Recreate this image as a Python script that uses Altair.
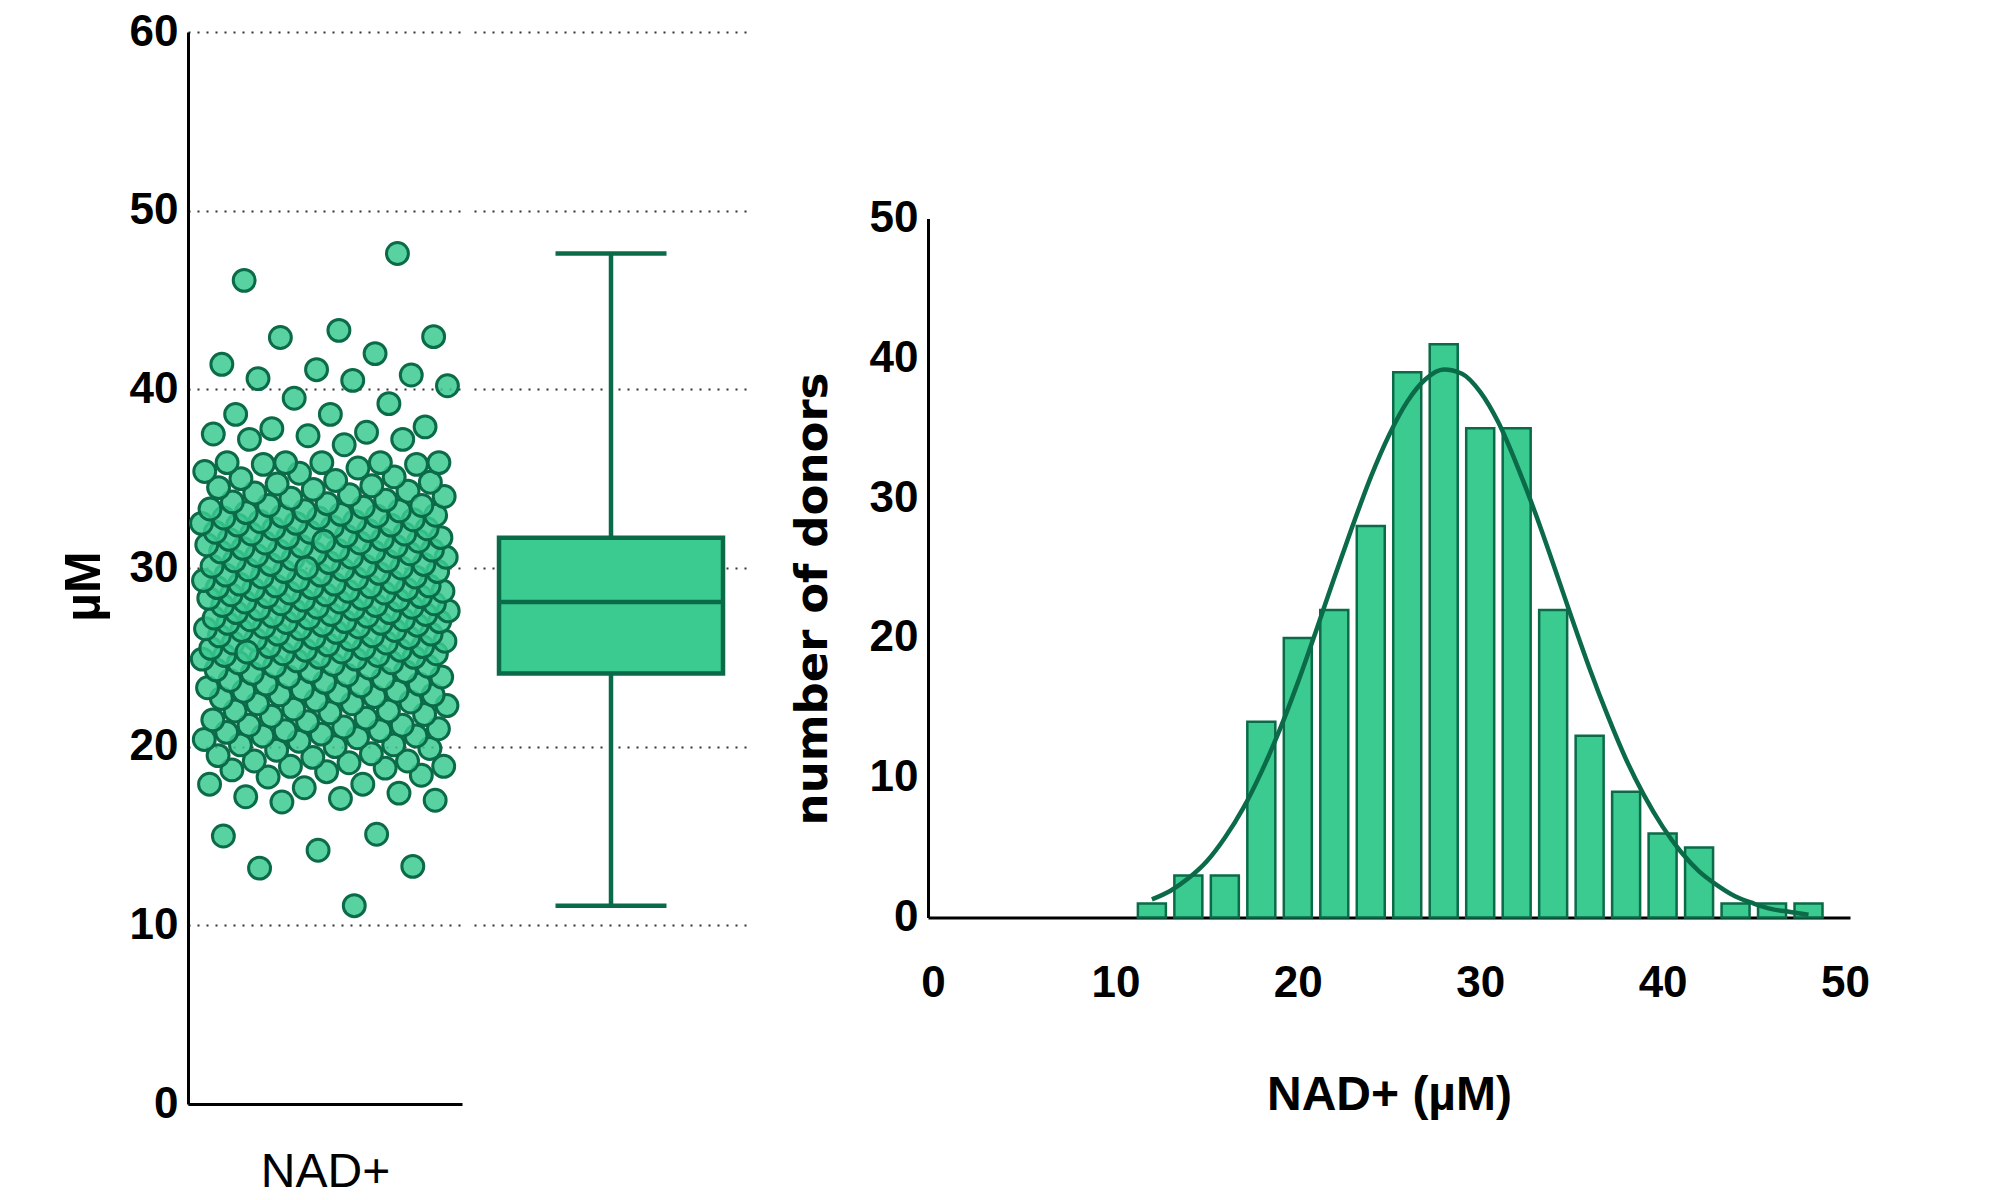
import altair as alt
import pandas as pd

# ---------------- data ----------------
nad_values = [
    11.1,
    13.2, 13.3, 14.2,
    15.0, 15.1, 16.9,
    17.0, 17.1, 17.2, 17.4, 17.7, 17.9, 17.9, 18.3, 18.4, 18.6, 18.7, 18.8, 18.9, 18.9,
    19.1, 19.2, 19.2, 19.4, 19.5, 19.6, 19.8, 19.9, 20.0, 20.1, 20.1, 20.3, 20.4, 20.5,
    20.6, 20.6, 20.7, 20.8, 20.9, 20.9,
    21.0, 21.1, 21.2, 21.2, 21.4, 21.5, 21.6, 21.7, 21.8, 21.9, 22.0, 22.0, 22.1, 22.3,
    22.4, 22.4, 22.5, 22.6, 22.7, 22.8, 22.9, 22.9,
    23.0, 23.1, 23.1, 23.2, 23.3, 23.4, 23.5, 23.5, 23.6, 23.7, 23.8, 23.9, 23.9, 24.0,
    24.1, 24.2, 24.2, 24.3, 24.4, 24.5, 24.5, 24.6, 24.7, 24.7, 24.8, 24.9, 24.9, 24.95,
    25.0, 25.0, 25.1, 25.1, 25.2, 25.2, 25.3, 25.4, 25.4, 25.5, 25.5, 25.6, 25.6, 25.7,
    25.8, 25.8, 25.9, 25.9, 26.0, 26.0, 26.1, 26.1, 26.2, 26.2, 26.3, 26.3, 26.4, 26.5,
    26.5, 26.6, 26.6, 26.7, 26.7, 26.8, 26.8, 26.9, 26.9, 26.95, 25.3,
    27.0, 27.0, 27.1, 27.1, 27.2, 27.2, 27.3, 27.3, 27.4, 27.4, 27.5, 27.5, 27.6, 27.6,
    27.7, 27.7, 27.8, 27.8, 27.9, 27.9, 28.0, 28.0, 28.1, 28.1, 28.2, 28.2, 28.3, 28.3,
    28.4, 28.4, 28.5, 28.5, 28.6, 28.6, 28.7, 28.7, 28.8, 28.8, 28.9, 28.9, 28.95,
    29.0, 29.0, 29.1, 29.1, 29.2, 29.3, 29.3, 29.4, 29.5, 29.5, 29.6, 29.6, 29.7, 29.8,
    29.8, 29.9, 29.9, 30.0, 30.1, 30.1, 30.2, 30.2, 30.3, 30.4, 30.4, 30.5, 30.6, 30.6,
    30.7, 30.8, 30.8, 30.9, 30.9, 30.95, 30.0,
    31.0, 31.0, 31.1, 31.2, 31.2, 31.3, 31.4, 31.4, 31.5, 31.6, 31.6, 31.7, 31.7, 31.8,
    31.9, 31.9, 32.0, 32.0, 32.1, 32.2, 32.2, 32.3, 32.4, 32.4, 32.5, 32.6, 32.6, 32.7,
    32.8, 32.8, 32.9, 32.9, 32.95, 31.5, 32.5,
    33.0, 33.1, 33.2, 33.2, 33.3, 33.4, 33.5, 33.6, 33.7, 33.8, 33.9, 34.0, 34.1, 34.2,
    34.3, 34.4, 34.5, 34.6, 34.7, 34.8, 34.9, 33.5,
    35.0, 35.1, 35.3, 35.4, 35.6, 35.8, 35.8, 35.9, 35.9, 35.9, 35.9, 35.9, 36.9,
    37.2, 37.2, 37.4, 37.5, 37.6, 37.8, 37.9, 38.6, 38.6,
    39.2, 39.5, 40.2, 40.5, 40.6, 40.8,
    41.1, 41.4, 42.0, 42.9, 42.95,
    43.3,
    46.1,
    47.6,
]

box_min, box_q1, box_median, box_q3, box_max = 11.1, 24.1, 28.1, 31.7, 47.6

bin_centers = [12, 14, 16, 18, 20, 22, 24, 26, 28, 30, 32, 34, 36, 38, 40, 42, 44, 46, 48]
bin_counts = [1, 3, 3, 14, 20, 22, 28, 39, 41, 35, 35, 22, 13, 9, 6, 5, 1, 1, 1]

curve_x = [12, 13, 14, 15, 16, 17, 18, 19, 20, 21, 22, 23, 24, 25, 26, 27, 28, 29, 30,
           31, 32, 33, 34, 35, 36, 37, 38, 39, 40, 41, 42, 43, 44, 45, 46, 47, 48]
curve_y = [1.3, 1.9, 2.8, 4.0, 5.7, 7.8, 10.4, 13.4, 16.8, 20.5, 24.3, 28.0, 31.5, 34.5,
           36.9, 38.5, 39.2, 38.9, 37.6, 35.4, 32.4, 29.0, 25.3, 21.5, 17.8, 14.4, 11.3,
           8.7, 6.5, 4.7, 3.3, 2.3, 1.5, 1.0, 0.6, 0.4, 0.2]

y_ticks_left = [0, 10, 20, 30, 40, 50, 60]
grid_values = [10, 20, 30, 40, 50, 60]
hist_ticks = [0, 10, 20, 30, 40, 50]

# ---------------- styling ----------------
FILL = "#3BCA90"
DARK = "#0B6B48"
FONT = "Liberation Sans"
GRID = dict(gridDash=[2, 7], gridColor="#333333", gridWidth=2)

pts = pd.DataFrame({"value": nad_values})
box_df = pd.DataFrame({"group": ["NAD+"], "min": [box_min], "q1": [box_q1],
                       "median": [box_median], "q3": [box_q3], "max": [box_max]})
hist_df = pd.DataFrame({"center": bin_centers, "count": bin_counts})
curve_df = pd.DataFrame({"x": curve_x, "y": curve_y})

# ---------------- left: scatter ----------------
left_y_axis = alt.Axis(
    values=y_ticks_left, title="µM", titleFont=FONT, titleFontSize=50, titleFontWeight="bold",
    titleColor="black", titlePadding=20, titleY=554,
    labelFont=FONT, labelFontSize=44, labelFontWeight="bold", labelColor="black",
    labelPadding=10, ticks=False, domainColor="black", domainWidth=3, grid=True, **GRID)

scatter = (
    alt.Chart(pts)
    .transform_window(rank="row_number()", sort=[alt.SortField("value", order="ascending")])
    .transform_calculate(jit="(((datum.rank * 0.6180339887) % 1) * 2 - 1) * 0.905")
    .mark_circle(size=480, fill=FILL, stroke=DARK, strokeWidth=3, fillOpacity=0.85,
                 strokeOpacity=1, opacity=1)
    .encode(
        x=alt.X("jit:Q", scale=alt.Scale(domain=[-1, 1], nice=False),
                axis=alt.Axis(title="NAD+", labels=False, ticks=False, grid=False,
                              domainColor="black", domainWidth=3, titleFont=FONT,
                              titleFontSize=48, titleFontWeight="normal", titleColor="black",
                              titlePadding=44)),
        y=alt.Y("value:Q", scale=alt.Scale(domain=[0, 60], nice=False), axis=left_y_axis),
    )
    .properties(width=274, height=1072)
)

# ---------------- middle: box plot ----------------
box_y_axis = alt.Axis(values=grid_values, grid=True, labels=False, ticks=False, domain=False,
                      title=None, minExtent=0, **GRID)
ysc = alt.Scale(domain=[0, 60], nice=False)
bx = alt.X("group:N", axis=None)
base = alt.Chart(box_df)
SW = 4.5
whisk_lo = base.mark_rule(color=DARK, strokeWidth=SW).encode(
    x=bx, y=alt.Y("min:Q", scale=ysc, axis=box_y_axis), y2="q1:Q")
whisk_hi = base.mark_rule(color=DARK, strokeWidth=SW).encode(
    x=bx, y=alt.Y("q3:Q", scale=ysc, axis=box_y_axis), y2="max:Q")
box_rect = base.mark_bar(size=224, fill=FILL, stroke=DARK, strokeWidth=SW, opacity=1).encode(
    x=bx, y=alt.Y("q1:Q", scale=ysc, axis=box_y_axis), y2="q3:Q")
median_t = base.mark_tick(size=224, thickness=SW, color=DARK, opacity=1).encode(
    x=bx, y=alt.Y("median:Q", scale=ysc, axis=box_y_axis))
cap_lo = base.mark_tick(size=111, thickness=SW, color=DARK, opacity=1).encode(
    x=bx, y=alt.Y("min:Q", scale=ysc, axis=box_y_axis))
cap_hi = base.mark_tick(size=111, thickness=SW, color=DARK, opacity=1).encode(
    x=bx, y=alt.Y("max:Q", scale=ysc, axis=box_y_axis))
box = alt.layer(whisk_lo, whisk_hi, box_rect, median_t, cap_lo, cap_hi).properties(
    width=274, height=1072)

# ---------------- spacer ----------------
spacer = alt.Chart(pd.DataFrame({"s": [0]})).mark_point(opacity=0).properties(width=156, height=20)

# ---------------- right: histogram ----------------
hx_scale = alt.Scale(domain=[0, 50], nice=False)
hy_scale = alt.Scale(domain=[0, 50], nice=False)
hist_x_axis = alt.Axis(values=hist_ticks, title="NAD+ (µM)", titleFont=FONT, titleFontSize=48,
                       titleFontWeight="bold", titleColor="black", titlePadding=66,
                       labelFont=FONT, labelFontSize=44, labelFontWeight="bold",
                       labelColor="black", labelPadding=44, ticks=False, grid=False,
                       domainColor="black", domainWidth=3)
hist_y_axis = alt.Axis(values=hist_ticks, title="number of donors", titleFont="DejaVu Sans",
                       titleFontSize=45, titleFontWeight="bold", titleColor="black",
                       titlePadding=34, titleY=380,
                       labelFont=FONT, labelFontSize=44, labelFontWeight="bold",
                       labelColor="black", labelPadding=10, ticks=False, grid=False,
                       domainColor="black", domainWidth=3)
bars = alt.Chart(hist_df).mark_bar(size=28, fill=FILL, stroke=DARK, strokeWidth=2.5,
                                   opacity=1).encode(
    x=alt.X("center:Q", scale=hx_scale, axis=hist_x_axis),
    y=alt.Y("count:Q", scale=hy_scale, axis=hist_y_axis),
)
curve = alt.Chart(curve_df).mark_line(color=DARK, strokeWidth=4.5, interpolate="monotone").encode(
    x=alt.X("x:Q", scale=hx_scale, axis=hist_x_axis),
    y=alt.Y("y:Q", scale=hy_scale, axis=hist_y_axis),
)
hist = alt.layer(bars, curve).properties(width=922, height=699)

chart = (
    alt.hconcat(scatter, box, spacer, hist, spacing=12, bounds="flush", center=True)
    .configure_view(stroke=None)
    .properties(padding={"left": 51, "top": 2, "right": 10, "bottom": 10}, background="white")
)

chart.save("out.html", embed_options={"renderer": "svg", "actions": False})
